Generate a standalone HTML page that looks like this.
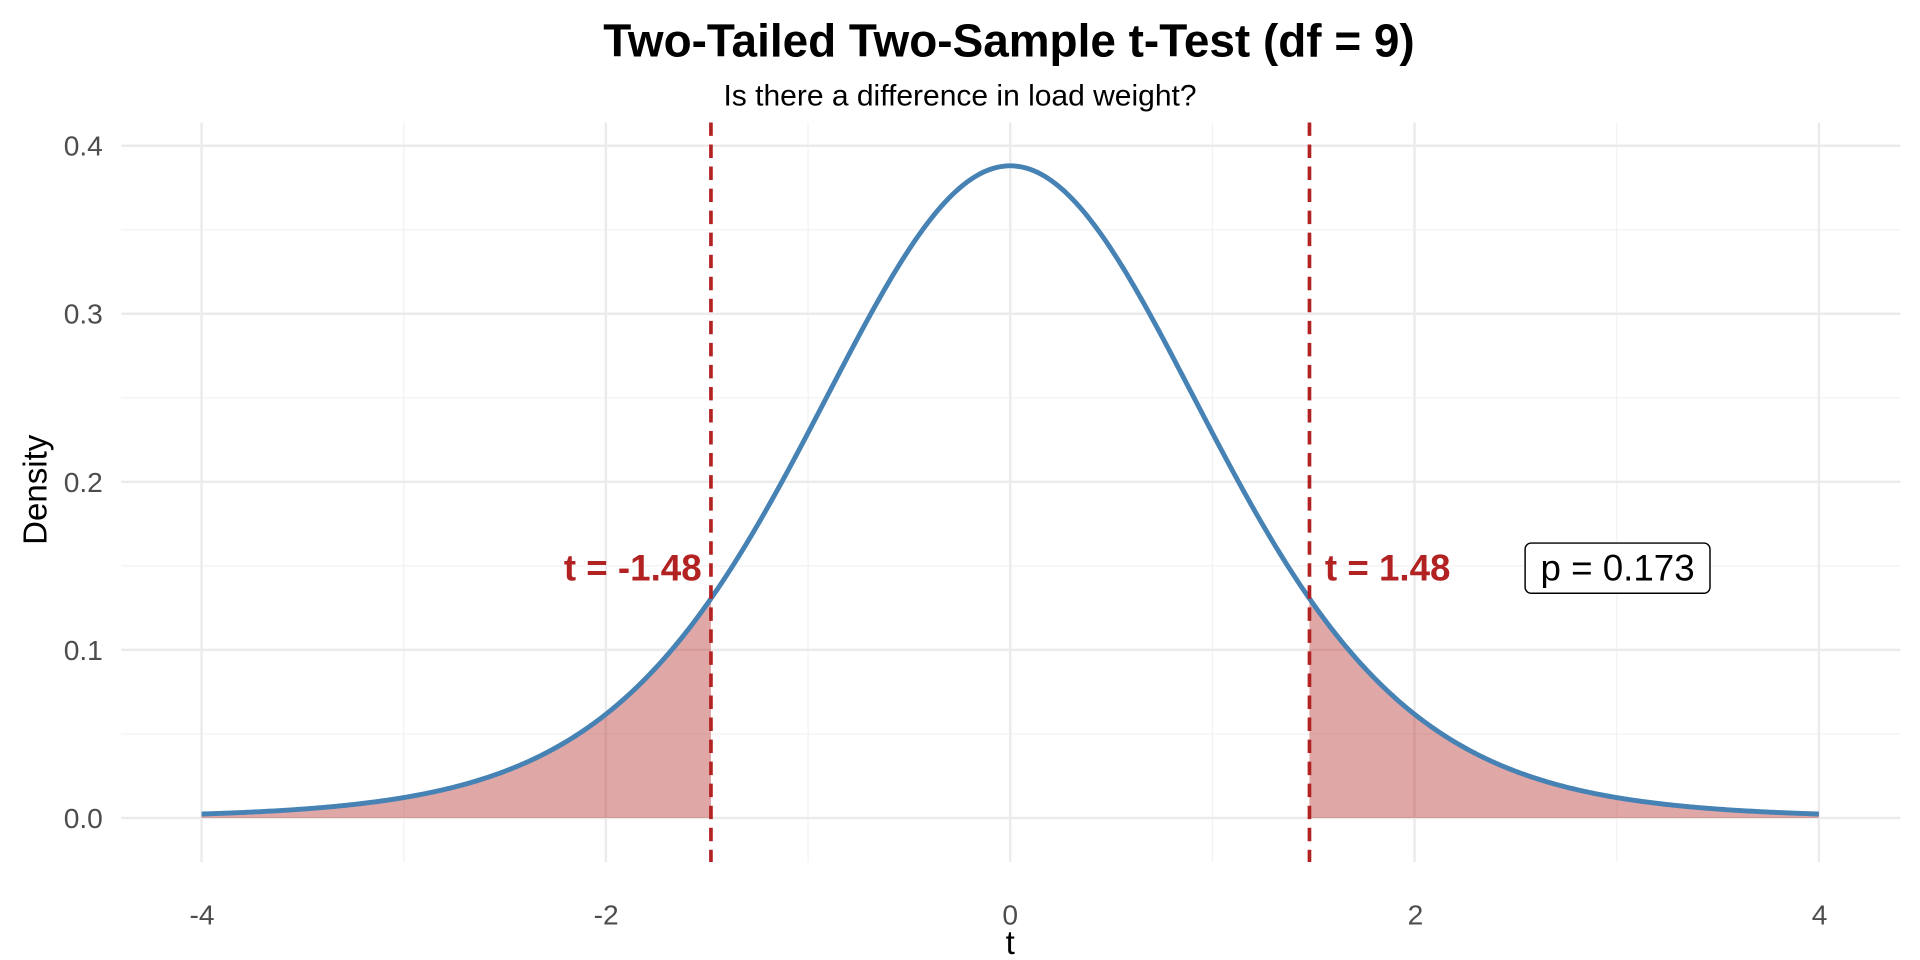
<!DOCTYPE html>
<html><head><meta charset="utf-8"><style>
html,body{margin:0;padding:0;background:#fff;}
svg{display:block;}
text{font-family:"Liberation Sans",Arial,sans-serif;}
</style></head><body>
<svg id="s" width="1920" height="960" viewBox="0 0 1568 784" xmlns="http://www.w3.org/2000/svg">
<rect width="1568" height="784" fill="#fff"/>
<g id="grid"></g>
<path id="fl" fill="#B22222" fill-opacity="0.4"/>
<path id="fr" fill="#B22222" fill-opacity="0.4"/>
<path id="curve" fill="none" stroke="#4682B4" stroke-width="4"/>
<line x1="580.6" x2="580.6" y1="100" y2="704" stroke="#B22222" stroke-width="3" stroke-dasharray="11,7"/>
<line x1="1069.4" x2="1069.4" y1="100" y2="704" stroke="#B22222" stroke-width="3" stroke-dasharray="11,7"/>
<text x="573" y="474" font-size="30" font-weight="bold" fill="#B22222" text-anchor="end">t = -1.48</text>
<text x="1082" y="474" font-size="30" font-weight="bold" fill="#B22222">t = 1.48</text>
<rect x="1245.5" y="443.5" width="151" height="41" rx="5" fill="#fff" stroke="#000" stroke-width="1.2"/>
<text x="1321" y="474" font-size="30" text-anchor="middle" fill="#000">p = 0.173</text>
<text x="824" y="46" font-size="37.5" font-weight="bold" text-anchor="middle">Two-Tailed Two-Sample t-Test (df = 9)</text>
<text x="784" y="86" font-size="24.5" text-anchor="middle">Is there a difference in load weight?</text>
<g font-size="23" fill="#4d4d4d" text-anchor="end">
<text x="84" y="676">0.0</text><text x="84" y="539">0.1</text><text x="84" y="402">0.2</text><text x="84" y="264">0.3</text><text x="84" y="127">0.4</text>
</g>
<g font-size="23" fill="#4d4d4d" text-anchor="middle">
<text x="165" y="755">-4</text><text x="495" y="755">-2</text><text x="825" y="755">0</text><text x="1156" y="755">2</text><text x="1486" y="755">4</text>
</g>
<text x="825" y="779" font-size="27" text-anchor="middle">t</text>
<text transform="translate(38,400) rotate(-90)" font-size="27" text-anchor="middle">Density</text>
</svg>
<script>
var X=function(t){return 825+165.1*t;},Y=function(d){return 668-1372.5*d;};
var C=24/(Math.sqrt(9*Math.PI)*11.6317);
function f(t){return C*Math.pow(1+t*t/9,-5);}
var g='';
[-3,-1,1,3].forEach(function(t){g+='<line x1="'+X(t)+'" x2="'+X(t)+'" y1="100" y2="704" stroke="#f2f2f2" stroke-width="1"/>';});
[0.05,0.15,0.25,0.35].forEach(function(d){g+='<line x1="99" x2="1552" y1="'+Y(d)+'" y2="'+Y(d)+'" stroke="#f2f2f2" stroke-width="1"/>';});
[-4,-2,0,2,4].forEach(function(t){g+='<line x1="'+X(t)+'" x2="'+X(t)+'" y1="100" y2="704" stroke="#ebebeb" stroke-width="2"/>';});
[0,0.1,0.2,0.3,0.4].forEach(function(d){g+='<line x1="99" x2="1552" y1="'+Y(d)+'" y2="'+Y(d)+'" stroke="#ebebeb" stroke-width="2"/>';});
document.getElementById('grid').innerHTML=g;
var p='';for(var i=0;i<=800;i++){var t=-4+i*0.01;p+=(i?'L':'M')+X(t).toFixed(2)+','+Y(f(t)).toFixed(2);}
document.getElementById('curve').setAttribute('d',p);
function area(a,b){var s='M'+X(a)+','+Y(0);for(var i=0;i<=200;i++){var t=a+(b-a)*i/200;s+='L'+X(t).toFixed(2)+','+Y(f(t)).toFixed(2);}return s+'L'+X(b)+','+Y(0)+'Z';}
document.getElementById('fl').setAttribute('d',area(-4,-1.48));
document.getElementById('fr').setAttribute('d',area(1.48,4));
</script>
</body></html>
